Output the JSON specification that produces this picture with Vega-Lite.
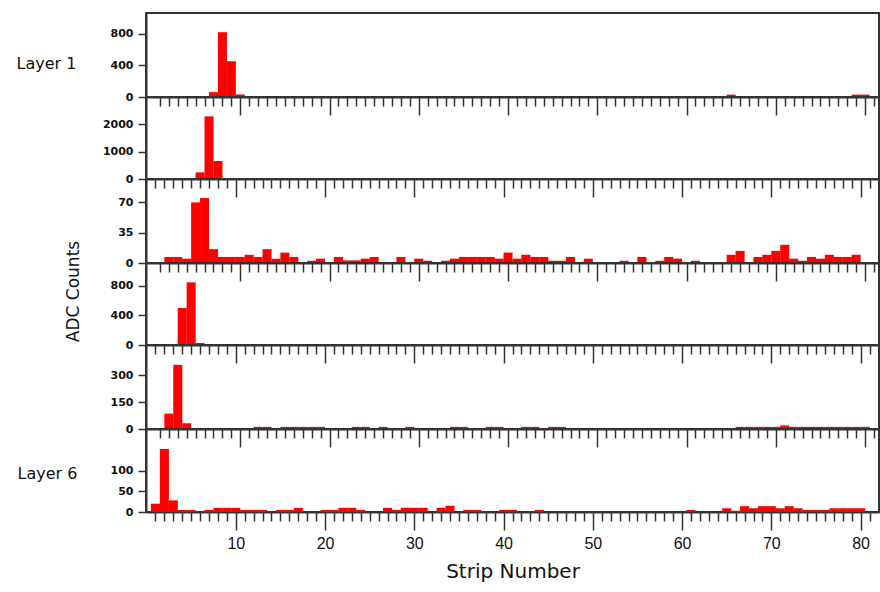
{
  "$schema": "https://vega.github.io/schema/vega-lite/v6.json",
  "padding": {"left": 15, "top": 12, "right": 2, "bottom": 2},
  "autosize": {"type": "pad"},
  "spacing": 0,
  "bounds": "flush",
  "background": "white",
  "config": {
    "view": {"stroke": "#333", "strokeWidth": 2},
    "axis": {"grid": false, "domainColor": "#333", "domainWidth": 2, "tickColor": "#333", "tickWidth": 1.5, "labelColor": "#111", "titleColor": "#111"},
    "axisY": {"tickSize": 8, "labelPadding": 5, "labelFont": "DejaVu Sans", "labelFontSize": 11, "labelFontWeight": "bold", "format": "d"},
    "axisX": {"labelOverlap": false, "labelFlush": false}
  },
  "datasets": {
    "strips": [
      {"layer": 1, "strip": 7, "adc": 61}, {"layer": 1, "strip": 8, "adc": 820}, {"layer": 1, "strip": 9, "adc": 453}, {"layer": 1, "strip": 10, "adc": 32}, {"layer": 1, "strip": 65, "adc": 30}, {"layer": 1, "strip": 79, "adc": 30}, {"layer": 1, "strip": 80, "adc": 30},
      {"layer": 2, "strip": 6, "adc": 240}, {"layer": 2, "strip": 7, "adc": 2276}, {"layer": 2, "strip": 8, "adc": 655},
      {"layer": 3, "strip": 2, "adc": 7}, {"layer": 3, "strip": 3, "adc": 7}, {"layer": 3, "strip": 4, "adc": 5}, {"layer": 3, "strip": 5, "adc": 70}, {"layer": 3, "strip": 6, "adc": 75}, {"layer": 3, "strip": 7, "adc": 16}, {"layer": 3, "strip": 8, "adc": 7}, {"layer": 3, "strip": 9, "adc": 7}, {"layer": 3, "strip": 10, "adc": 7}, {"layer": 3, "strip": 11, "adc": 9.5}, {"layer": 3, "strip": 12, "adc": 7}, {"layer": 3, "strip": 13, "adc": 16}, {"layer": 3, "strip": 14, "adc": 5}, {"layer": 3, "strip": 15, "adc": 12}, {"layer": 3, "strip": 16, "adc": 7}, {"layer": 3, "strip": 18, "adc": 2.6}, {"layer": 3, "strip": 19, "adc": 5}, {"layer": 3, "strip": 21, "adc": 7}, {"layer": 3, "strip": 22, "adc": 3}, {"layer": 3, "strip": 23, "adc": 3}, {"layer": 3, "strip": 24, "adc": 5}, {"layer": 3, "strip": 25, "adc": 7}, {"layer": 3, "strip": 28, "adc": 7}, {"layer": 3, "strip": 30, "adc": 5}, {"layer": 3, "strip": 31, "adc": 2.6}, {"layer": 3, "strip": 33, "adc": 2.6}, {"layer": 3, "strip": 34, "adc": 5}, {"layer": 3, "strip": 35, "adc": 7}, {"layer": 3, "strip": 36, "adc": 7}, {"layer": 3, "strip": 37, "adc": 7}, {"layer": 3, "strip": 38, "adc": 7}, {"layer": 3, "strip": 39, "adc": 5}, {"layer": 3, "strip": 40, "adc": 12}, {"layer": 3, "strip": 41, "adc": 5}, {"layer": 3, "strip": 42, "adc": 9.5}, {"layer": 3, "strip": 43, "adc": 7}, {"layer": 3, "strip": 44, "adc": 7}, {"layer": 3, "strip": 45, "adc": 2.6}, {"layer": 3, "strip": 46, "adc": 2.6}, {"layer": 3, "strip": 47, "adc": 7}, {"layer": 3, "strip": 49, "adc": 5}, {"layer": 3, "strip": 53, "adc": 2.6}, {"layer": 3, "strip": 55, "adc": 7}, {"layer": 3, "strip": 57, "adc": 2.6}, {"layer": 3, "strip": 58, "adc": 7}, {"layer": 3, "strip": 59, "adc": 5}, {"layer": 3, "strip": 61, "adc": 2.6}, {"layer": 3, "strip": 65, "adc": 9.5}, {"layer": 3, "strip": 66, "adc": 14}, {"layer": 3, "strip": 68, "adc": 7}, {"layer": 3, "strip": 69, "adc": 9.5}, {"layer": 3, "strip": 70, "adc": 14}, {"layer": 3, "strip": 71, "adc": 21}, {"layer": 3, "strip": 72, "adc": 5}, {"layer": 3, "strip": 73, "adc": 2.6}, {"layer": 3, "strip": 74, "adc": 7}, {"layer": 3, "strip": 75, "adc": 5}, {"layer": 3, "strip": 76, "adc": 9.5}, {"layer": 3, "strip": 77, "adc": 7}, {"layer": 3, "strip": 78, "adc": 7}, {"layer": 3, "strip": 79, "adc": 9.5},
      {"layer": 4, "strip": 4, "adc": 499}, {"layer": 4, "strip": 5, "adc": 845}, {"layer": 4, "strip": 6, "adc": 27},
      {"layer": 5, "strip": 2, "adc": 86}, {"layer": 5, "strip": 3, "adc": 358}, {"layer": 5, "strip": 4, "adc": 32}, {"layer": 5, "strip": 12, "adc": 12}, {"layer": 5, "strip": 13, "adc": 12}, {"layer": 5, "strip": 15, "adc": 12}, {"layer": 5, "strip": 16, "adc": 12}, {"layer": 5, "strip": 17, "adc": 12}, {"layer": 5, "strip": 18, "adc": 12}, {"layer": 5, "strip": 19, "adc": 12}, {"layer": 5, "strip": 23, "adc": 12}, {"layer": 5, "strip": 24, "adc": 12}, {"layer": 5, "strip": 26, "adc": 12}, {"layer": 5, "strip": 29, "adc": 12}, {"layer": 5, "strip": 34, "adc": 12}, {"layer": 5, "strip": 35, "adc": 12}, {"layer": 5, "strip": 38, "adc": 12}, {"layer": 5, "strip": 39, "adc": 12}, {"layer": 5, "strip": 42, "adc": 12}, {"layer": 5, "strip": 43, "adc": 12}, {"layer": 5, "strip": 45, "adc": 12}, {"layer": 5, "strip": 46, "adc": 12}, {"layer": 5, "strip": 66, "adc": 12}, {"layer": 5, "strip": 67, "adc": 12}, {"layer": 5, "strip": 68, "adc": 12}, {"layer": 5, "strip": 69, "adc": 12}, {"layer": 5, "strip": 70, "adc": 12}, {"layer": 5, "strip": 71, "adc": 20}, {"layer": 5, "strip": 72, "adc": 12}, {"layer": 5, "strip": 73, "adc": 12}, {"layer": 5, "strip": 74, "adc": 12}, {"layer": 5, "strip": 75, "adc": 12}, {"layer": 5, "strip": 76, "adc": 12}, {"layer": 5, "strip": 77, "adc": 12}, {"layer": 5, "strip": 78, "adc": 12}, {"layer": 5, "strip": 79, "adc": 12}, {"layer": 5, "strip": 80, "adc": 12},
      {"layer": 6, "strip": 1, "adc": 20}, {"layer": 6, "strip": 2, "adc": 152}, {"layer": 6, "strip": 3, "adc": 28}, {"layer": 6, "strip": 4, "adc": 5}, {"layer": 6, "strip": 5, "adc": 5}, {"layer": 6, "strip": 7, "adc": 5}, {"layer": 6, "strip": 8, "adc": 10}, {"layer": 6, "strip": 9, "adc": 10}, {"layer": 6, "strip": 10, "adc": 10}, {"layer": 6, "strip": 11, "adc": 5}, {"layer": 6, "strip": 12, "adc": 5}, {"layer": 6, "strip": 13, "adc": 5}, {"layer": 6, "strip": 15, "adc": 5}, {"layer": 6, "strip": 16, "adc": 5}, {"layer": 6, "strip": 17, "adc": 10}, {"layer": 6, "strip": 20, "adc": 5}, {"layer": 6, "strip": 21, "adc": 5}, {"layer": 6, "strip": 22, "adc": 10}, {"layer": 6, "strip": 23, "adc": 10}, {"layer": 6, "strip": 24, "adc": 5}, {"layer": 6, "strip": 27, "adc": 10}, {"layer": 6, "strip": 28, "adc": 5}, {"layer": 6, "strip": 29, "adc": 10}, {"layer": 6, "strip": 30, "adc": 10}, {"layer": 6, "strip": 31, "adc": 10}, {"layer": 6, "strip": 33, "adc": 10}, {"layer": 6, "strip": 34, "adc": 15}, {"layer": 6, "strip": 36, "adc": 5}, {"layer": 6, "strip": 37, "adc": 5}, {"layer": 6, "strip": 40, "adc": 5}, {"layer": 6, "strip": 41, "adc": 5}, {"layer": 6, "strip": 44, "adc": 5}, {"layer": 6, "strip": 61, "adc": 5}, {"layer": 6, "strip": 65, "adc": 9}, {"layer": 6, "strip": 66, "adc": 3}, {"layer": 6, "strip": 67, "adc": 14}, {"layer": 6, "strip": 68, "adc": 9}, {"layer": 6, "strip": 69, "adc": 14}, {"layer": 6, "strip": 70, "adc": 14}, {"layer": 6, "strip": 71, "adc": 9}, {"layer": 6, "strip": 72, "adc": 14}, {"layer": 6, "strip": 73, "adc": 9}, {"layer": 6, "strip": 74, "adc": 5}, {"layer": 6, "strip": 75, "adc": 5}, {"layer": 6, "strip": 76, "adc": 5}, {"layer": 6, "strip": 77, "adc": 9}, {"layer": 6, "strip": 78, "adc": 9}, {"layer": 6, "strip": 79, "adc": 9}, {"layer": 6, "strip": 80, "adc": 9}
    ]
  },
  "vconcat": [
    {
      "width": 733, "height": 84,
      "data": {"name": "strips"},
      "transform": [{"filter": "datum.layer === 1"}],
      "mark": {"type": "bar", "color": "#ff0000", "width": 9.05, "clip": true},
      "encoding": {
        "x": {"field": "strip", "type": "quantitative", "scale": {"domain": [0, 81], "nice": false, "zero": false},
          "axis": {"values": [1,2,3,4,5,6,7,8,9,10,11,12,13,14,15,16,17,18,19,20,21,22,23,24,25,26,27,28,29,30,31,32,33,34,35,36,37,38,39,40,41,42,43,44,45,46,47,48,49,50,51,52,53,54,55,56,57,58,59,60,61,62,63,64,65,66,67,68,69,70,71,72,73,74,75,76,77,78,79,80,81],
            "labels": false, "title": null, "tickSize": {"condition": {"test": "datum.value % 10 === 0", "value": 18}, "value": 9}}},
        "y": {"field": "adc", "type": "quantitative", "scale": {"domain": [0, 1063], "nice": false},
          "axis": {"values": [0, 400, 800], "title": "Layer 1", "titleAngle": 0, "titleX": -130, "titleY": 50, "titleAlign": "left", "titleBaseline": "middle", "titleFont": "DejaVu Sans", "titleFontSize": 16, "titleFontWeight": "normal"}}
      }
    },
    {
      "width": 733, "height": 82,
      "data": {"name": "strips"},
      "transform": [{"filter": "datum.layer === 2"}],
      "mark": {"type": "bar", "color": "#ff0000", "width": 9.05, "clip": true},
      "encoding": {
        "x": {"field": "strip", "type": "quantitative", "scale": {"domain": [0.5, 81.5], "nice": false, "zero": false},
          "axis": {"values": [1,2,3,4,5,6,7,8,9,10,11,12,13,14,15,16,17,18,19,20,21,22,23,24,25,26,27,28,29,30,31,32,33,34,35,36,37,38,39,40,41,42,43,44,45,46,47,48,49,50,51,52,53,54,55,56,57,58,59,60,61,62,63,64,65,66,67,68,69,70,71,72,73,74,75,76,77,78,79,80,81],
            "labels": false, "title": null, "tickSize": {"condition": {"test": "datum.value % 10 === 0", "value": 18}, "value": 9}}},
        "y": {"field": "adc", "type": "quantitative", "scale": {"domain": [0, 2982], "nice": false},
          "axis": {"values": [0, 1000, 2000], "title": null}}
      }
    },
    {
      "width": 733, "height": 84,
      "data": {"name": "strips"},
      "transform": [{"filter": "datum.layer === 3"}],
      "mark": {"type": "bar", "color": "#ff0000", "width": 9.05, "clip": true},
      "encoding": {
        "x": {"field": "strip", "type": "quantitative", "scale": {"domain": [0, 81], "nice": false, "zero": false},
          "axis": {"values": [1,2,3,4,5,6,7,8,9,10,11,12,13,14,15,16,17,18,19,20,21,22,23,24,25,26,27,28,29,30,31,32,33,34,35,36,37,38,39,40,41,42,43,44,45,46,47,48,49,50,51,52,53,54,55,56,57,58,59,60,61,62,63,64,65,66,67,68,69,70,71,72,73,74,75,76,77,78,79,80,81],
            "labels": false, "title": null, "tickSize": {"condition": {"test": "datum.value % 10 === 0", "value": 18}, "value": 9}}},
        "y": {"field": "adc", "type": "quantitative", "scale": {"domain": [0, 97], "nice": false},
          "axis": {"values": [0, 35, 70], "title": null}}
      }
    },
    {
      "width": 733, "height": 82,
      "data": {"name": "strips"},
      "transform": [{"filter": "datum.layer === 4"}],
      "mark": {"type": "bar", "color": "#ff0000", "width": 9.05, "clip": true},
      "encoding": {
        "x": {"field": "strip", "type": "quantitative", "scale": {"domain": [0.5, 81.5], "nice": false, "zero": false},
          "axis": {"values": [1,2,3,4,5,6,7,8,9,10,11,12,13,14,15,16,17,18,19,20,21,22,23,24,25,26,27,28,29,30,31,32,33,34,35,36,37,38,39,40,41,42,43,44,45,46,47,48,49,50,51,52,53,54,55,56,57,58,59,60,61,62,63,64,65,66,67,68,69,70,71,72,73,74,75,76,77,78,79,80,81],
            "labels": false, "title": null, "tickSize": {"condition": {"test": "datum.value % 10 === 0", "value": 18}, "value": 9}}},
        "y": {"field": "adc", "type": "quantitative", "scale": {"domain": [0, 1106], "nice": false},
          "axis": {"values": [0, 400, 800], "title": "ADC Counts", "titleAngle": -90, "titleX": -73, "titleY": 28, "titleAlign": "center", "titleBaseline": "middle", "titleFont": "DejaVu Sans", "titleFontSize": 17, "titleFontWeight": "normal"}}
      }
    },
    {
      "width": 733, "height": 84,
      "data": {"name": "strips"},
      "transform": [{"filter": "datum.layer === 5"}],
      "mark": {"type": "bar", "color": "#ff0000", "width": 9.05, "clip": true},
      "encoding": {
        "x": {"field": "strip", "type": "quantitative", "scale": {"domain": [0, 81], "nice": false, "zero": false},
          "axis": {"values": [1,2,3,4,5,6,7,8,9,10,11,12,13,14,15,16,17,18,19,20,21,22,23,24,25,26,27,28,29,30,31,32,33,34,35,36,37,38,39,40,41,42,43,44,45,46,47,48,49,50,51,52,53,54,55,56,57,58,59,60,61,62,63,64,65,66,67,68,69,70,71,72,73,74,75,76,77,78,79,80,81],
            "labels": false, "title": null, "tickSize": {"condition": {"test": "datum.value % 10 === 0", "value": 18}, "value": 9}}},
        "y": {"field": "adc", "type": "quantitative", "scale": {"domain": [0, 469], "nice": false},
          "axis": {"values": [0, 150, 300], "title": null}}
      }
    },
    {
      "width": 733, "height": 83,
      "data": {"name": "strips"},
      "transform": [{"filter": "datum.layer === 6"}],
      "mark": {"type": "bar", "color": "#ff0000", "width": 9.05, "clip": true},
      "encoding": {
        "x": {"field": "strip", "type": "quantitative", "scale": {"domain": [0.5, 81.5], "nice": false, "zero": false},
          "axis": {"values": [1,2,3,4,5,6,7,8,9,10,11,12,13,14,15,16,17,18,19,20,21,22,23,24,25,26,27,28,29,30,31,32,33,34,35,36,37,38,39,40,41,42,43,44,45,46,47,48,49,50,51,52,53,54,55,56,57,58,59,60,61,62,63,64,65,66,67,68,69,70,71,72,73,74,75,76,77,78,79,80,81],
            "labelExpr": "datum.value % 10 === 0 ? datum.label : ''", "labelFont": "Liberation Sans", "labelFontSize": 16, "labelPadding": 5,
            "title": "Strip Number", "titleFont": "DejaVu Sans", "titleFontSize": 20, "titleFontWeight": "normal", "titlePadding": 10,
            "tickSize": {"condition": {"test": "datum.value % 10 === 0", "value": 18}, "value": 9}}},
        "y": {"field": "adc", "type": "quantitative", "scale": {"domain": [0, 200], "nice": false},
          "axis": {"values": [0, 50, 100], "title": "Layer 6", "titleAngle": 0, "titleX": -129, "titleY": 44, "titleAlign": "left", "titleBaseline": "middle", "titleFont": "DejaVu Sans", "titleFontSize": 16, "titleFontWeight": "normal"}}
      }
    }
  ]
}
